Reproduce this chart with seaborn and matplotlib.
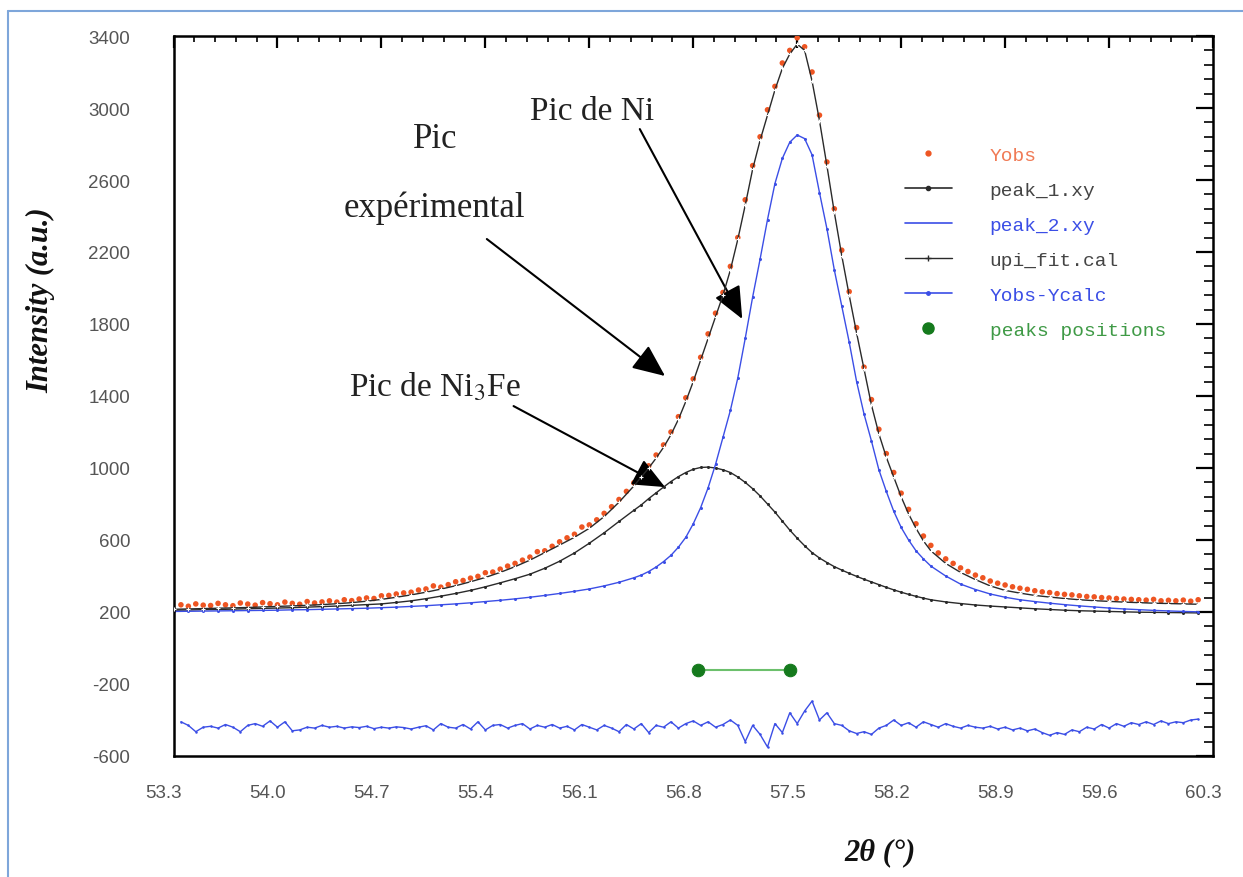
import numpy as np
import matplotlib
matplotlib.use("Agg")
import matplotlib.pyplot as plt
import matplotlib.transforms as mtransforms
from matplotlib.lines import Line2D
from matplotlib.ticker import FixedLocator
import seaborn as sns

# ---------------- data ----------------
x_curve = [53.3, 53.4, 53.5, 53.6, 53.7, 53.8, 53.9, 54.0, 54.1, 54.2,
           54.3, 54.4, 54.5, 54.6, 54.7, 54.8, 54.9, 55.0, 55.1, 55.2,
           55.3, 55.4, 55.5, 55.6, 55.7, 55.8, 55.9, 56.0, 56.1, 56.2,
           56.3,
           56.4, 56.45, 56.5, 56.55, 56.6, 56.65, 56.7, 56.75, 56.8, 56.85,
           56.9, 56.95, 57.0, 57.05, 57.1, 57.15, 57.2, 57.25, 57.3, 57.35,
           57.4, 57.45, 57.5, 57.55, 57.6, 57.65, 57.7, 57.75, 57.8, 57.85,
           57.9, 57.95, 58.0, 58.05, 58.1, 58.15, 58.2, 58.25, 58.3, 58.35,
           58.4,
           58.5, 58.6, 58.7, 58.8, 58.9, 59.0, 59.1, 59.2, 59.3, 59.4,
           59.5, 59.6, 59.7, 59.8, 59.9, 60.0, 60.1, 60.2]

peak_1 = [210, 211, 213, 214, 216, 218, 220, 222, 224, 227,
          230, 233, 237, 241, 245, 253, 262, 274, 288, 303,
          320, 340, 362, 385, 410, 443, 482, 528, 582, 640,
          703,
          765, 795, 830, 862, 894, 925, 952, 975, 993, 1003,
          1005, 1000, 990, 975, 950, 920, 885, 845, 800, 755,
          705, 655, 610, 568, 530, 500, 475, 452, 433, 415,
          398, 382, 367, 352, 337, 323, 310, 298, 287, 277,
          268,
          256, 247, 239, 233, 228, 223, 218, 214, 210, 207,
          205, 203, 201, 199, 198, 197, 196, 195]

peak_2 = [203, 204, 205, 206, 207, 208, 209, 210, 212, 213,
          215, 217, 219, 221, 224, 227, 231, 235, 240, 245,
          251, 258, 265, 273, 282, 292, 303, 315, 328, 345,
          365,
          390, 405, 425, 450, 480, 515, 560, 615, 690, 780,
          890, 1020, 1170, 1320, 1500, 1720, 1950, 2160, 2380, 2580,
          2720, 2810, 2850, 2830, 2740, 2530, 2330, 2100, 1900, 1700,
          1480, 1300, 1150, 990, 870, 760, 670, 600, 540, 495,
          455,
          400, 355, 325, 300, 282, 268, 258, 249, 241, 234,
          228, 222, 217, 213, 209, 206, 203, 201]

fit_cal = [215, 217, 219, 221, 223, 225, 228, 231, 234, 237,
           241, 246, 252, 260, 270, 282, 295, 310, 327, 346,
           368, 392, 420, 452, 488, 530, 572, 615, 665, 730,
           810,
           900, 950, 1000, 1055, 1115, 1185, 1270, 1370, 1480, 1600,
           1720, 1840, 1960, 2100, 2270, 2460, 2660, 2820, 2960, 3100,
           3220, 3300, 3355, 3320, 3150, 2930, 2680, 2420, 2180, 1960,
           1750, 1550, 1350, 1190, 1060, 950, 840, 745, 665, 595,
           540,
           470, 420, 380, 345, 320, 305, 292, 283, 275, 268,
           263, 259, 255, 252, 249, 247, 245, 243]

x_obs = [53.35, 53.40, 53.45, 53.50, 53.55, 53.60, 53.65, 53.70, 53.75, 53.80,
         53.85, 53.90, 53.95, 54.00, 54.05, 54.10, 54.15, 54.20, 54.25, 54.30,
         54.35, 54.40, 54.45, 54.50, 54.55, 54.60, 54.65, 54.70, 54.75, 54.80,
         54.85, 54.90, 54.95, 55.00, 55.05, 55.10, 55.15, 55.20, 55.25, 55.30,
         55.35, 55.40, 55.45, 55.50, 55.55, 55.60, 55.65, 55.70, 55.75, 55.80,
         55.85, 55.90, 55.95, 56.00, 56.05, 56.10, 56.15, 56.20, 56.25, 56.30,
         56.35, 56.40, 56.45, 56.50, 56.55, 56.60, 56.65, 56.70, 56.75, 56.80,
         56.85, 56.90, 56.95, 57.00, 57.05, 57.10, 57.15, 57.20, 57.25, 57.30,
         57.35, 57.40, 57.45, 57.50, 57.55, 57.60, 57.65, 57.70, 57.75, 57.80,
         57.85, 57.90, 57.95, 58.00, 58.05, 58.10, 58.15, 58.20, 58.25, 58.30,
         58.35, 58.40, 58.45, 58.50, 58.55, 58.60, 58.65, 58.70, 58.75, 58.80,
         58.85, 58.90, 58.95, 59.00, 59.05, 59.10, 59.15, 59.20, 59.25, 59.30,
         59.35, 59.40, 59.45, 59.50, 59.55, 59.60, 59.65, 59.70, 59.75, 59.80,
         59.85, 59.90, 59.95, 60.00, 60.05, 60.10, 60.15, 60.20]

y_obs = [240, 232, 245, 238, 236, 248, 240, 235, 250, 244,
         238, 252, 246, 240, 255, 248, 243, 258, 250, 256,
         262, 255, 268, 263, 272, 278, 275, 290, 292, 300,
         306, 310, 322, 328, 345, 338, 352, 368, 375, 388,
         398, 418, 422, 438, 455, 470, 488, 505, 535, 540,
         565, 590, 612, 632, 672, 684, 712, 748, 785, 825,
         870, 918, 968, 1012, 1072, 1128, 1200, 1285, 1390, 1495,
         1615, 1745, 1860, 1975, 2120, 2280, 2490, 2680, 2840, 2990,
         3120, 3250, 3320, 3390, 3340, 3200, 2960, 2700, 2440, 2210,
         1980, 1780, 1560, 1380, 1215, 1080, 975, 860, 770, 690,
         622, 570, 528, 495, 470, 445, 425, 405, 390, 372,
         360, 350, 340, 332, 326, 318, 312, 308, 302, 298,
         295, 290, 286, 284, 280, 278, 275, 272, 270, 268,
         266, 270, 262, 265, 262, 266, 260, 268]

y_diff = [-410, -430, -465, -440, -435, -445, -425, -440, -465, -430,
          -420, -435, -405, -440, -410, -460, -455, -440, -445, -430,
          -440, -435, -445, -438, -442, -435, -448, -440, -445, -438,
          -442, -450, -440, -432, -455, -420, -440, -445, -425, -450,
          -410, -455, -430, -425, -445, -430, -420, -450, -430, -440,
          -425, -445, -435, -455, -425, -440, -455, -430, -445, -465,
          -425, -450, -420, -470, -430, -440, -410, -445, -420, -405,
          -430, -410, -440, -425, -400, -430, -520, -430, -480, -550,
          -420, -470, -360, -420, -350, -295, -400, -360, -420, -430,
          -460, -475, -465, -480, -445, -430, -400, -430, -415, -440,
          -410, -425, -440, -420, -435, -445, -430, -440, -445, -435,
          -450, -440, -455, -445, -460, -450, -470, -485, -470, -480,
          -455, -465, -440, -450, -425, -445, -420, -435, -415, -425,
          -410, -425, -405, -420, -410, -415, -400, -395]

peak_pos_x = [56.83, 57.45]
peak_pos_y = [-120, -120]

x_ticks = [53.3, 54.0, 54.7, 55.4, 56.1, 56.8, 57.5, 58.2, 58.9, 59.6, 60.3]
x_tick_labels = ["53.3", "54.0", "54.7", "55.4", "56.1", "56.8", "57.5",
                 "58.2", "58.9", "59.6", "60.3"]
y_ticks = [-600, -200, 200, 600, 1000, 1400, 1800, 2200, 2600, 3000, 3400]
y_tick_labels = ["-600", "-200", "200", "600", "1000", "1400", "1800",
                 "2200", "2600", "3000", "3400"]

legend_labels = ["Yobs", "peak_1.xy", "peak_2.xy", "upi_fit.cal",
                 "Yobs-Ycalc", "peaks positions"]

# ---------------- style ----------------
sns.set_style("white")
plt.rcParams['font.family'] = ['Liberation Sans', 'DejaVu Sans']
plt.rcParams['mathtext.fontset'] = 'stix'

C_OBS = "#ee5522"
C_BLUE = "#3b4ee6"
C_DARK = "#2a2a2a"
C_GREEN_D = "#157a1d"
C_GREEN_L = "#6cc06c"

W, H = 1243, 878
fig = plt.figure(figsize=(W / 100, H / 100), dpi=100)
ax = fig.add_axes([173.5 / W, 1 - 757 / H, (1213 - 173.5) / W, (757 - 37) / H])

# ---------------- series ----------------
sns.lineplot(x=x_curve, y=peak_1, ax=ax, color=C_DARK, lw=1.0, marker="o",
             markersize=2.2, markeredgewidth=0, estimator=None, sort=False)
sns.lineplot(x=x_curve, y=peak_2, ax=ax, color=C_BLUE, lw=1.0, marker="o",
             markersize=2.2, markeredgewidth=0, estimator=None, sort=False)
sns.scatterplot(x=x_obs, y=y_obs, ax=ax, color=C_OBS, s=16, marker="o",
                edgecolor="none", zorder=3)
sns.lineplot(x=x_curve, y=fit_cal, ax=ax, color=C_DARK, lw=1.0, marker="+",
             markersize=3, markeredgewidth=0.8, estimator=None, sort=False,
             zorder=4)
sns.lineplot(x=x_obs, y=y_diff, ax=ax, color=C_BLUE, lw=1.0, marker="o",
             markersize=1.8, markeredgewidth=0, estimator=None, sort=False)
sns.lineplot(x=peak_pos_x, y=peak_pos_y, ax=ax, color=C_GREEN_L, lw=1.5,
             marker="o", markersize=9, markerfacecolor=C_GREEN_D,
             markeredgecolor=C_GREEN_D, estimator=None, sort=False)

# ---------------- axes ----------------
ax.set_xlim(53.3, 60.3)
ax.set_ylim(-600, 3400)
ax.xaxis.set_major_locator(FixedLocator(x_ticks))
ax.set_xticklabels(x_tick_labels)
ax.xaxis.set_minor_locator(FixedLocator(np.round(np.arange(53.3, 60.31, 0.14), 2)))
ax.yaxis.set_major_locator(FixedLocator(y_ticks))
ax.set_yticklabels(y_tick_labels)
ax.yaxis.set_minor_locator(FixedLocator(np.arange(-600, 3401, 80)))
ax.set_xlabel("")
ax.set_ylabel("")

for sp in ax.spines.values():
    sp.set_color("black")
    sp.set_linewidth(1.8)

ax.tick_params(axis="both", which="both", direction="in", top=True,
               right=True, colors="black", labelcolor="#555555",
               labelsize=13.5)
ax.tick_params(axis="y", which="major", length=12, width=1.6, pad=31)
ax.tick_params(axis="y", which="minor", length=6.5, width=1.2)
ax.tick_params(axis="x", which="major", length=8.5, width=1.6, pad=20)
ax.tick_params(axis="x", which="minor", length=4, width=1.2)

shift = mtransforms.ScaledTranslation(-10 / 100, 0, fig.dpi_scale_trans)
for lab in ax.get_xticklabels():
    lab.set_transform(lab.get_transform() + shift)

fig.text(41 / W, 1 - 300 / H, "Intensity (a.u.)", rotation=90,
         family="Liberation Serif", fontweight="bold", fontstyle="italic",
         fontsize=22, ha="center", va="center", color="#111111")
fig.text(880 / W, 1 - 853 / H, "2θ (°)", family="Liberation Serif",
         fontweight="bold", fontstyle="italic", fontsize=22, ha="center",
         va="center", color="#111111")

# ---------------- annotations ----------------
serif = dict(family="Liberation Serif", color="#222222", ha="center",
             va="center")
ax.text(56.12, 2985, "Pic de Ni", fontsize=24, **serif)
ax.text(55.06, 2830, "Pic", fontsize=25, **serif)
ax.text(55.06, 2450, "expérimental", fontsize=25, **serif)
ax.text(55.06, 1455, "Pic de Ni$_3$Fe", fontsize=24, **serif)

astyle = dict(arrowstyle="-|>,head_length=0.8,head_width=0.35",
              mutation_scale=25, lw=1.5, color="black", shrinkA=0, shrinkB=0)
ax.annotate("", xy=(57.13, 1828), xytext=(56.44, 2883), arrowprops=astyle)
ax.annotate("", xy=(56.61, 1511), xytext=(55.41, 2272), arrowprops=astyle)
ax.annotate("", xy=(56.61, 894), xytext=(55.59, 1344), arrowprops=astyle)

# ---------------- legend ----------------
handles = [
    Line2D([], [], ls="none", marker="o", ms=3.5, color=C_OBS),
    Line2D([], [], color=C_DARK, lw=1.2, marker="o", ms=3),
    Line2D([], [], color=C_BLUE, lw=1.2),
    Line2D([], [], color=C_DARK, lw=1.0, marker="+", ms=5),
    Line2D([], [], color=C_BLUE, lw=1.2, marker="o", ms=2.5),
    Line2D([], [], ls="none", marker="o", ms=8, color=C_GREEN_D),
]
leg = ax.legend(handles, legend_labels, loc="upper left",
                bbox_to_anchor=(905 / W, 1 - 147 / H),
                bbox_transform=fig.transFigure, frameon=False,
                prop={"family": "Liberation Mono", "size": 14},
                handlelength=2.4, handletextpad=1.95, labelspacing=0.9,
                borderpad=0, borderaxespad=0)
text_colors = ["#f07a55", "#444444", C_BLUE, "#444444", C_BLUE, "#3f9a46"]
for t, c in zip(leg.get_texts(), text_colors):
    t.set_color(c)

# ---------------- figure border ----------------
fig.add_artist(Line2D([8 / W, 8 / W], [0, 1 - 12 / H],
                      transform=fig.transFigure, color="#7ea6da", lw=1.5))
fig.add_artist(Line2D([8 / W, 1], [1 - 12 / H, 1 - 12 / H],
                      transform=fig.transFigure, color="#7ea6da", lw=1.5))

fig.savefig("out.png", dpi=100)
